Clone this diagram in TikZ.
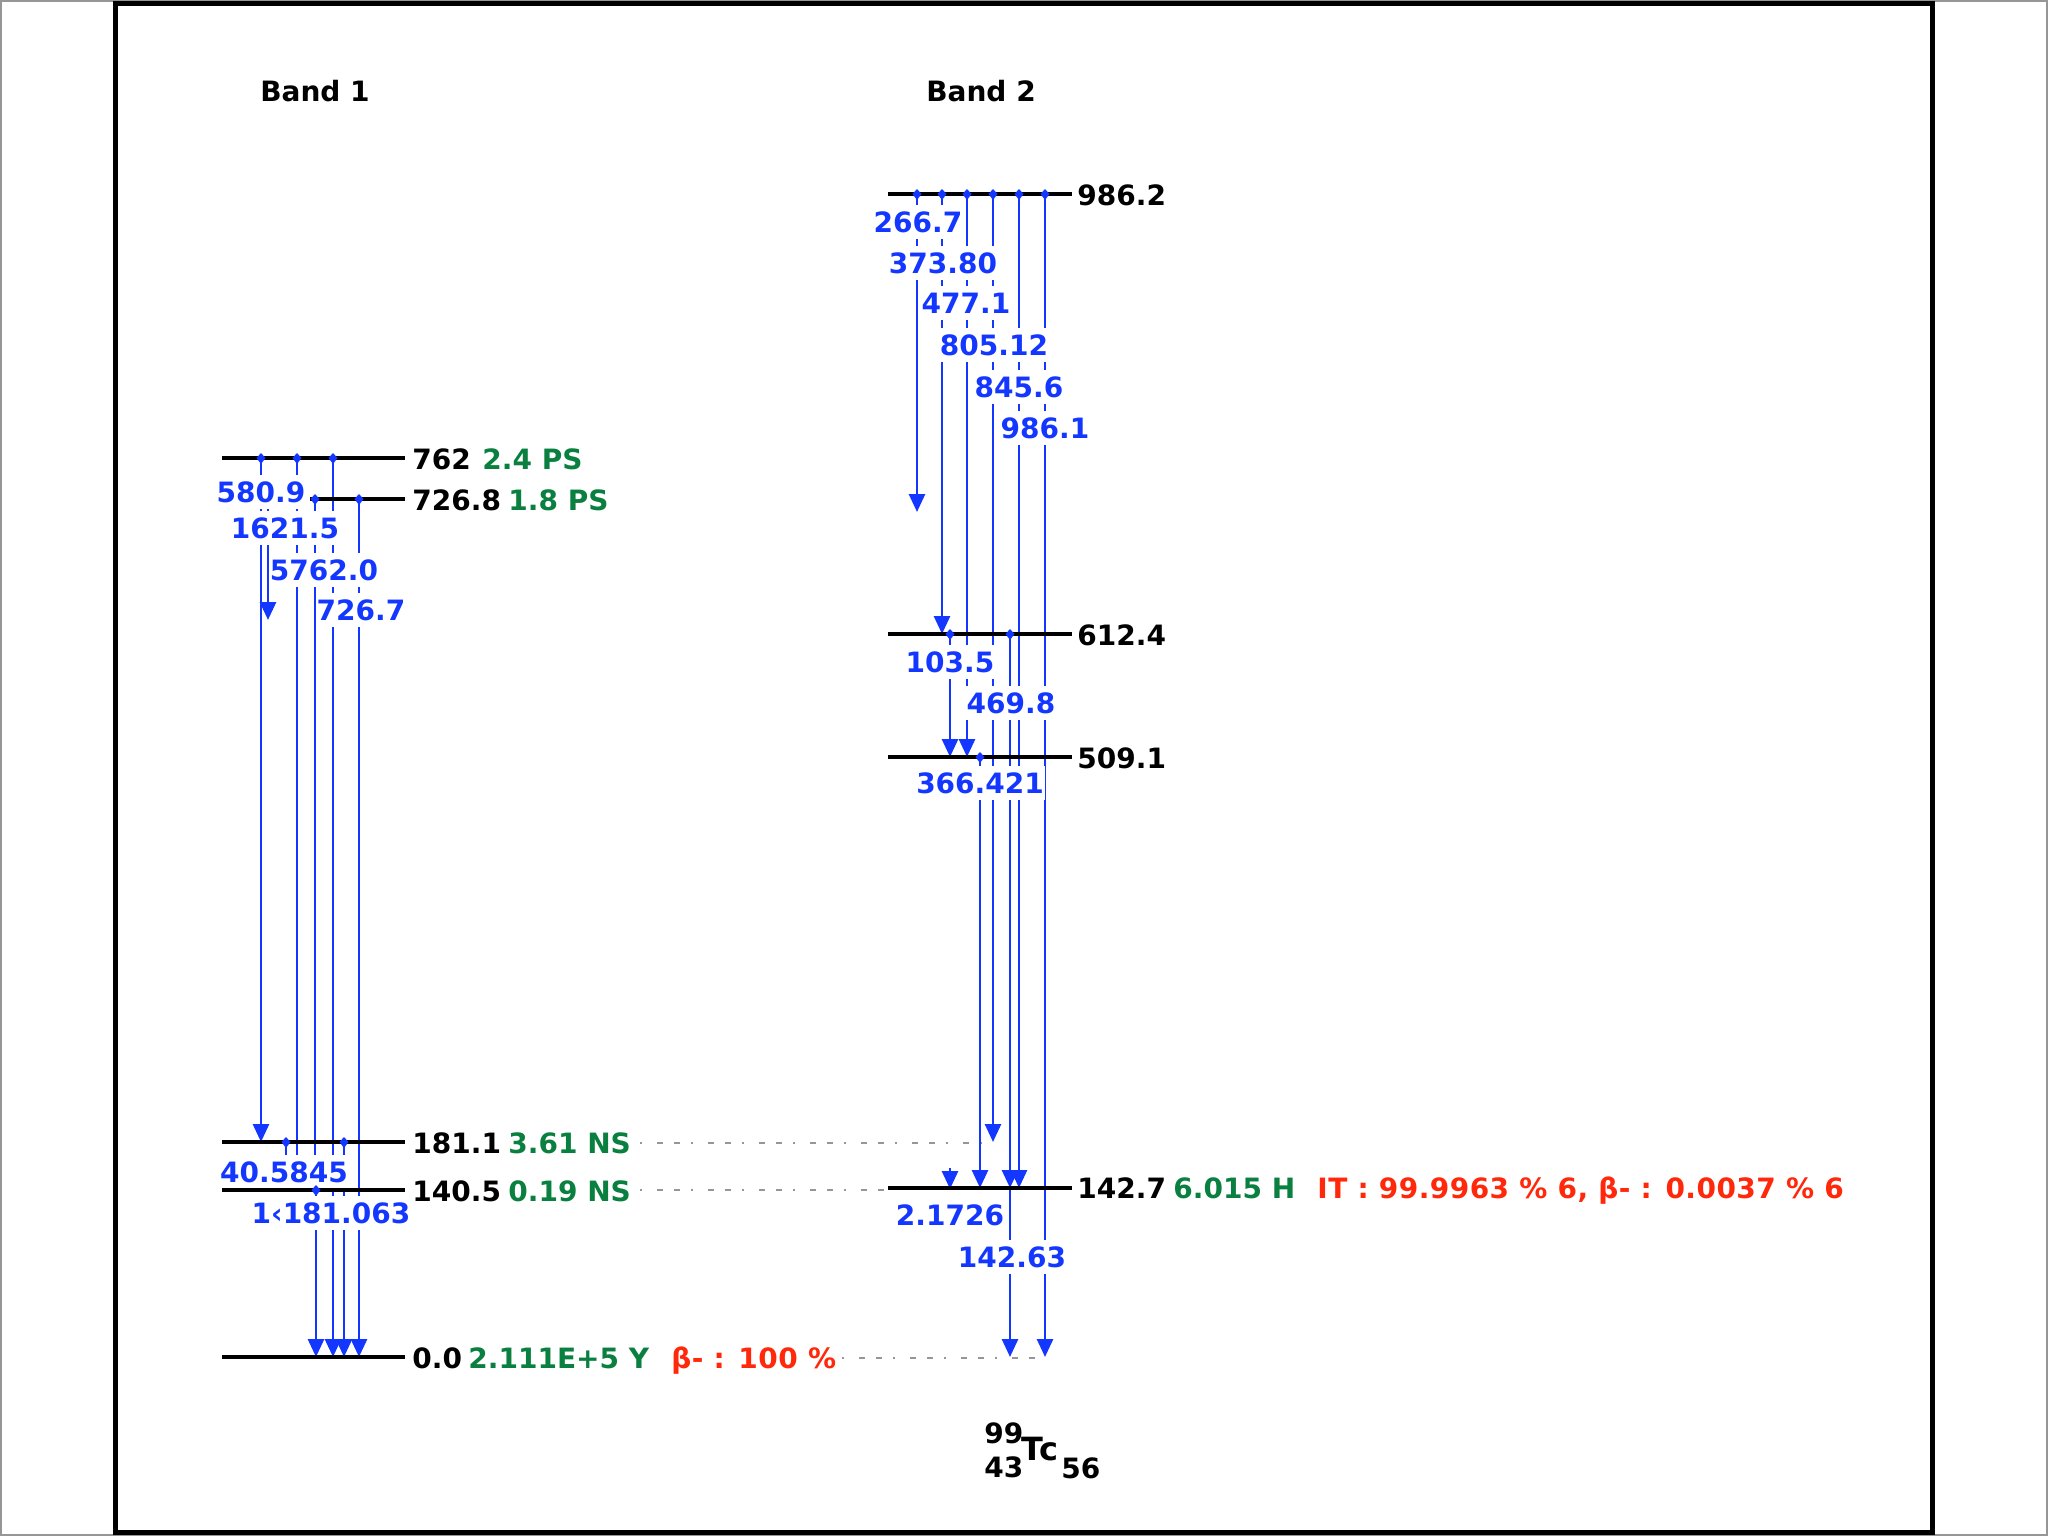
\documentclass[tikz,border=0pt]{standalone}
\usepackage{fontspec}
\setmainfont{DejaVu Sans}
\newfontfamily\redfont{DejaVu Sans}[LetterSpace=1.6]
\usetikzlibrary{arrows.meta}
\definecolor{gblue}{RGB}{20,55,255}
\definecolor{ggreen}{RGB}{10,128,64}
\definecolor{gred}{RGB}{255,40,10}
\definecolor{ggray}{RGB}{150,150,150}
\newcommand\gline[3]{\draw[gam] (#1,#2) -- (#1,#3);}
\newcommand\gdot[2]{\fill[gblue] (#1,#2-5) -- (#1+4.5,#2) -- (#1,#2+6) -- (#1-4.5,#2) -- cycle;}
\begin{document}
\begin{tikzpicture}[x=0.5pt,y=-0.5pt,
  font=\fontsize{14}{16}\selectfont\bfseries,
  level/.style={line width=2pt, black},
  gam/.style={gblue, line width=1.4pt, -{Triangle[width=8pt,length=9pt]}},
  lbl/.style={text=gblue, fill=white, inner xsep=0.5pt, inner ysep=3.3pt, text height=10.2pt, text depth=0pt},
  lev/.style={anchor=west, inner sep=0pt, text height=10.2pt, text depth=0pt},
  hl/.style={lev, text=ggreen},
  br/.style={lev, text=gred, font=\fontsize{14}{16}\selectfont\redfont\bfseries},
  dotl/.style={ggray, line width=1pt, dash pattern=on 1pt off 7.5pt on 3pt off 5.5pt on 3pt off 5.5pt}
]
\useasboundingbox (0,0) rectangle (2048,1536);
\draw[ggray, line width=1pt] (1,1) rectangle (2047,1535);
\draw[black, line width=2.5pt] (115,4) rectangle (1932,1532);

\node (b1) at (315,91) {Band 1};
\node (b2) at (981,91) {Band 2};

% dotted links
\draw[dotl] (640,1143) -- (982,1143);
\draw[dotl] (640,1190) -- (888,1190);
\draw[dotl] (842,1358) -- (1045,1358);

% band 1 transitions
\gline{261}{458}{1142}
\gline{268}{500}{620}
\gline{297}{458}{1190}
\gline{333}{458}{1357}
\gline{315}{499}{1190}
\gline{359}{499}{1357}
\gline{286}{1142}{1190}
\gline{344}{1142}{1357}
\gline{316}{1190}{1357}

% band 2 transitions
\gline{917}{194}{512}
\gline{942}{194}{634}
\gline{967}{194}{757}
\gline{993}{194}{1142}
\gline{1019}{194}{1188}
\gline{1045}{194}{1357}
\gline{950}{634}{757}
\gline{1010}{634}{1188}
\gline{980}{757}{1188}
\gline{950}{1168}{1189}
\gline{1010}{1188}{1357}

% gamma labels
\node[lbl] (g1) at (261,492) {580.9};
\node[lbl] (g2) at (285,528) {1621.5};
\node[lbl] (g3) at (324,570) {5762.0};
\node[lbl] (g4) at (361,610) {726.7};
\node[lbl] (g5) at (284,1172) {40.5845};
\node[lbl] (g6) at (331,1213) {1‹181.063};
\node[lbl] (h1) at (918,222) {266.7};
\node[lbl] (h2) at (943,263) {373.80};
\node[lbl] (h3) at (966,303) {477.1};
\node[lbl] (h4) at (994,345) {805.12};
\node[lbl] (h5) at (1019,387) {845.6};
\node[lbl] (h6) at (1045,428) {986.1};
\node[lbl] (h7) at (950,662) {103.5};
\node[lbl] (h8) at (1011,703) {469.8};
\node[lbl] (h9) at (980,783) {366.421};
\node[lbl] (h10) at (950,1215) {2.1726};
\node[lbl] (h11) at (1012,1257) {142.63};

% levels band 1
\draw[level] (222,458) -- (405,458);
\draw[level] (310,499) -- (405,499);
\draw[level] (222,1142) -- (405,1142);
\draw[level] (222,1190) -- (405,1190);
\draw[level] (222,1357) -- (405,1357);
% levels band 2
\draw[level] (888,194) -- (1072,194);
\draw[level] (888,634) -- (1072,634);
\draw[level] (888,757) -- (1072,757);
\draw[level] (888,1188) -- (1072,1188);

% source dots
\gdot{261}{458}\gdot{297}{458}\gdot{333}{458}
\gdot{315}{499}\gdot{359}{499}
\gdot{286}{1142}\gdot{344}{1142}\gdot{316}{1190}
\gdot{917}{194}\gdot{942}{194}\gdot{967}{194}\gdot{993}{194}\gdot{1019}{194}\gdot{1045}{194}
\gdot{950}{634}\gdot{1010}{634}\gdot{980}{757}

% level texts
\node[lev] (e762) at (412,459) {762};
\node[hl] (t762) at (482,459) {2.4 PS};
\node[lev] (e726) at (412,500) {726.8};
\node[hl] (t726) at (508,500) {1.8 PS};
\node[lev] (e181) at (412,1143) {181.1};
\node[hl] (t181) at (508,1143) {3.61 NS};
\node[lev] (e140) at (412,1191) {140.5};
\node[hl] (t140) at (508,1191) {0.19 NS};
\node[lev] (e0) at (412,1358) {0.0};
\node[hl] (t0) at (468,1358) {2.111E+5 Y};
\node[br] (d0) at (671,1358) {β- : 100 \%};
\node[lev] (e986) at (1077,195) {986.2};
\node[lev] (e612) at (1077,635) {612.4};
\node[lev] (e509) at (1077,758) {509.1};
\node[lev] (e142) at (1077,1188) {142.7};
\node[hl] (t142) at (1173,1188) {6.015 H};
\node[br] (d142) at (1317,1188) {IT : 99.9963 \% 6, β- : 0.0037 \% 6};

% nuclide
\node[lev] (n99) at (984,1433) {99};
\node[lev] (n43) at (984,1467) {43};
\node[lev, font=\fontsize{16}{18}\selectfont\bfseries] (ntc) at (1021,1450) {Tc};
\node[lev] (n56) at (1061,1468) {56};
\end{tikzpicture}
\end{document}
